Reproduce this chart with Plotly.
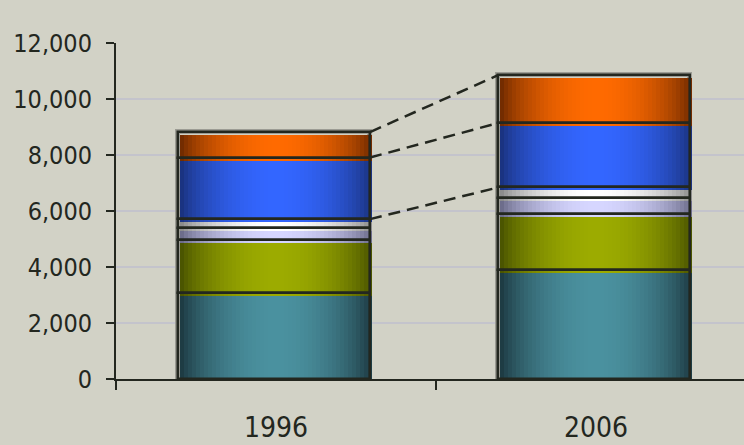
import math
import plotly.graph_objects as go

# ---------------- data ----------------
years = ["1996", "2006"]
seg1 = [3060, 3910]   # teal (bottom)
seg2 = [1900, 2000]   # olive
seg3 = [450, 560]     # lavender
seg4 = [300, 370]     # silver
seg5 = [2200, 2300]   # blue
seg6 = [910, 1710]    # orange (top)
y_ticks = [0, 2000, 4000, 6000, 8000, 10000, 12000]
y_ticktext = ["0", "2,000", "4,000", "6,000", "8,000", "10,000", "12,000"]

segments = [seg1, seg2, seg3, seg4, seg5, seg6]
# (edge colour, centre colour) for a horizontal "cylinder" gradient
palettes = [
    ("#1a333b", "#4a919f"),
    ("#434c00", "#9cab00"),
    ("#62627f", "#d6d6ff"),
    ("#808080", "#ffffff"),
    ("#182e74", "#3366ff"),
    ("#652600", "#ff6a00"),
]

BG = "#d2d2c6"
DARK = "#23271f"
FONT = "DejaVu Sans Condensed, Liberation Sans Narrow, sans-serif"

BAR_W = 0.6
N = 48

W, H = 744, 445
ML, MR, MT, MB = 116, 0, 43, 66
XR = [-0.5, 1.4625]
YR = [0, 12000]
px_x = (W - ML - MR) / (XR[1] - XR[0])
px_y = (H - MT - MB) / (YR[1] - YR[0])


def hex2rgb(h):
    h = h.lstrip("#")
    return tuple(int(h[i:i + 2], 16) for i in (0, 2, 4))


def mix(c1, c2, t):
    a, b = hex2rgb(c1), hex2rgb(c2)
    return "rgb(%d,%d,%d)" % tuple(round(a[i] + (b[i] - a[i]) * t) for i in range(3))


# bases
bases = []
for k in range(2):
    acc = 0
    col = []
    for s in segments:
        col.append(acc)
        acc += s[k]
    bases.append(col)

xs, ys, bs, seg_idx = [], [], [], []
for k in range(2):
    for j, s in enumerate(segments):
        xs.append(years[k])
        ys.append(s[k])
        bs.append(bases[k][j])
        seg_idx.append(j)

fig = go.Figure()

dx = 2 / px_x
dy = 3 / px_y

# light outer rim (under everything)
fig.add_trace(go.Bar(
    x=xs, y=ys, base=bs, width=BAR_W, offset=-BAR_W / 2 - dx,
    marker=dict(color="rgba(0,0,0,0)", line=dict(color="#9c9c94", width=5)),
    hoverinfo="skip", showlegend=False))

# gradient slices (fill is drawn slightly right/below the outline)
for i in range(N):
    t = (i + 0.5) / N
    f = max(0.0, math.sin(math.pi * t)) ** 0.7
    colors = [mix(palettes[j][0], palettes[j][1], f) for j in seg_idx]
    w = BAR_W / N
    wid = w * 1.4 if i < N - 1 else w
    fig.add_trace(go.Bar(
        x=xs, y=ys, base=[b - dy for b in bs], width=wid, offset=-BAR_W / 2 + i * w,
        marker=dict(color=colors, line=dict(width=0)),
        hoverinfo="skip", showlegend=False))

# dark outlines
fig.add_trace(go.Bar(
    x=xs, y=ys, base=bs, width=BAR_W, offset=-BAR_W / 2 - dx,
    marker=dict(color="rgba(0,0,0,0)", line=dict(color=DARK, width=2.5)),
    hoverinfo="skip", showlegend=False))

# dashed connectors (top of silver, blue, orange)
for j in (3, 4, 5):
    y0 = bases[0][j] + segments[j][0]
    y1 = bases[1][j] + segments[j][1]
    fig.add_shape(type="line", xref="x", yref="y",
                  x0=BAR_W / 2 - dx, y0=y0, x1=1 - BAR_W / 2 - dx, y1=y1,
                  line=dict(color=DARK, width=2.5, dash="12px,7px"))

fig.update_layout(
    width=W, height=H,
    margin=dict(l=ML, r=MR, t=MT, b=MB),
    paper_bgcolor=BG, plot_bgcolor=BG,
    barmode="overlay", bargap=0,
    font=dict(family=FONT, color=DARK),
    showlegend=False,
)
fig.update_xaxes(
    type="category", categoryorder="array", categoryarray=years,
    range=XR, showline=True, linecolor=DARK, linewidth=2,
    ticks="outside", tickson="boundaries", ticklen=9, tickwidth=2, tickcolor=DARK,
    showgrid=False, tickfont=dict(size=28, family=FONT, color=DARK),
    ticklabelstandoff=22,
)
fig.update_yaxes(
    range=YR, tickvals=y_ticks, ticktext=y_ticktext,
    showline=True, linecolor=DARK, linewidth=2,
    ticks="outside", ticklen=8, tickwidth=2, tickcolor=DARK,
    showgrid=True, gridcolor="#c4c4cc", gridwidth=2, zeroline=False,
    tickfont=dict(size=25, family=FONT, color=DARK),
    ticklabelstandoff=9,
)

fig.write_html("out.html")
